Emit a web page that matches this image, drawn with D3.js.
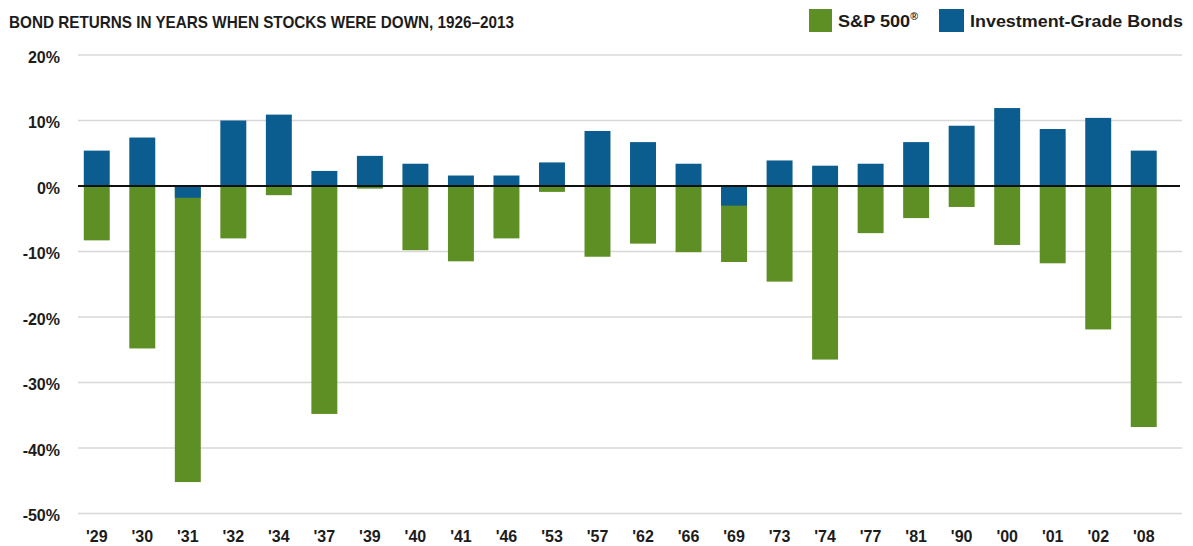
<!DOCTYPE html>
<html>
<head>
<meta charset="utf-8">
<script src="https://cdn.jsdelivr.net/npm/d3@7"></script>
<style>
  html, body { margin: 0; padding: 0; background: #fff; }
  svg { display: block; font-family: "Liberation Sans", Arial, sans-serif; }
</style>
</head>
<body>
<svg id="chart" width="1193" height="546"></svg>
<script>
// Years in which the S&P 500 posted a loss
const years = ["'29","'30","'31","'32","'34","'37","'39","'40","'41","'46","'53","'57",
               "'62","'66","'69","'73","'74","'77","'81","'90","'00","'01","'02","'08"];
// Annual total return, percent
const sp500 = [-8.3,-24.8,-45.2,-8.0,-1.4,-34.8,-0.4,-9.8,-11.5,-8.0,-0.9,-10.8,
               -8.8,-10.1,-11.6,-14.6,-26.5,-7.2,-4.9,-3.2,-9.0,-11.8,-21.9,-36.8];
const bonds = [5.4,7.4,-1.8,10.0,10.9,2.3,4.6,3.4,1.6,1.6,3.6,8.4,
               6.7,3.4,-3.0,3.9,3.1,3.4,6.7,9.2,11.9,8.7,10.4,5.4];
const yTicks = [20,10,0,-10,-20,-30,-40,-50];

const GREEN = "#5e8f24", BLUE = "#0b5c8f", INK = "#1c1c1c";

const svg = d3.select("#chart");

const x = d3.scaleBand().domain(years).range([74, 1166.5])
  .paddingInner(0.43).paddingOuter(0.215);
const y = d3.scaleLinear().domain([-50, 20]).range([513.5, 55]);

// Gridlines and y labels
const yAxis = d3.axisLeft(y).tickValues(yTicks).tickSize(0).tickFormat(d => d + "%");
const gy = svg.append("g").attr("transform", "translate(60,0)").call(yAxis);
gy.select(".domain").remove();
gy.selectAll("text")
  .attr("x", 0).attr("dy", "0.45em")
  .style("font-size", "16px").style("font-weight", "bold").attr("fill", INK);

svg.append("g").selectAll("line")
  .data(yTicks.filter(d => d !== 0)).join("line")
  .attr("x1", 78).attr("x2", 1182)
  .attr("y1", d => y(d)).attr("y2", d => y(d))
  .attr("stroke", "#d8d8d8").attr("stroke-width", 1.5);

// Stock bars
svg.append("g").selectAll("rect")
  .data(years.map((k, i) => ({ k, v: sp500[i] }))).join("rect")
  .attr("x", d => x(d.k)).attr("width", x.bandwidth())
  .attr("y", d => y(Math.max(0, d.v)))
  .attr("height", d => Math.abs(y(d.v) - y(0)))
  .attr("fill", GREEN);

// Bond bars
svg.append("g").selectAll("rect")
  .data(years.map((k, i) => ({ k, v: bonds[i] }))).join("rect")
  .attr("x", d => x(d.k)).attr("width", x.bandwidth())
  .attr("y", d => y(Math.max(0, d.v)))
  .attr("height", d => Math.abs(y(d.v) - y(0)))
  .attr("fill", BLUE);

// Zero line
svg.append("line")
  .attr("x1", 78).attr("x2", 1180)
  .attr("y1", y(0)).attr("y2", y(0))
  .attr("stroke", "#111").attr("stroke-width", 2);

// Category axis
const xAxis = d3.axisBottom(x).tickSize(0);
const gx = svg.append("g").attr("transform", "translate(0,530)").call(xAxis);
gx.select(".domain").remove();
gx.selectAll("text")
  .attr("y", 0).attr("dy", "0.72em")
  .style("font-size", "16px").style("font-weight", "bold").attr("fill", INK);

// Title
svg.append("text")
  .attr("x", 9).attr("y", 27.5)
  .attr("textLength", 505).attr("lengthAdjust", "spacingAndGlyphs")
  .style("font-size", "17px").style("font-weight", "bold").attr("fill", INK)
  .text("BOND RETURNS IN YEARS WHEN STOCKS WERE DOWN, 1926–2013");

// Legend
const legend = svg.append("g");
legend.append("rect").attr("x", 809).attr("y", 9).attr("width", 23).attr("height", 23).attr("fill", GREEN);
const t1 = legend.append("text").attr("x", 838).attr("y", 26.5)
  .attr("textLength", 80).attr("lengthAdjust", "spacingAndGlyphs")
  .style("font-size", "17px").style("font-weight", "bold").attr("fill", INK);
t1.append("tspan").text("S&P 500");
t1.append("tspan").attr("dy", -7).style("font-size", "10px").text("®");

legend.append("rect").attr("x", 939).attr("y", 9).attr("width", 25).attr("height", 23).attr("fill", BLUE);
legend.append("text").attr("x", 970).attr("y", 26.5)
  .attr("textLength", 213).attr("lengthAdjust", "spacingAndGlyphs")
  .style("font-size", "17px").style("font-weight", "bold").attr("fill", INK)
  .text("Investment-Grade Bonds");
</script>
</body>
</html>
